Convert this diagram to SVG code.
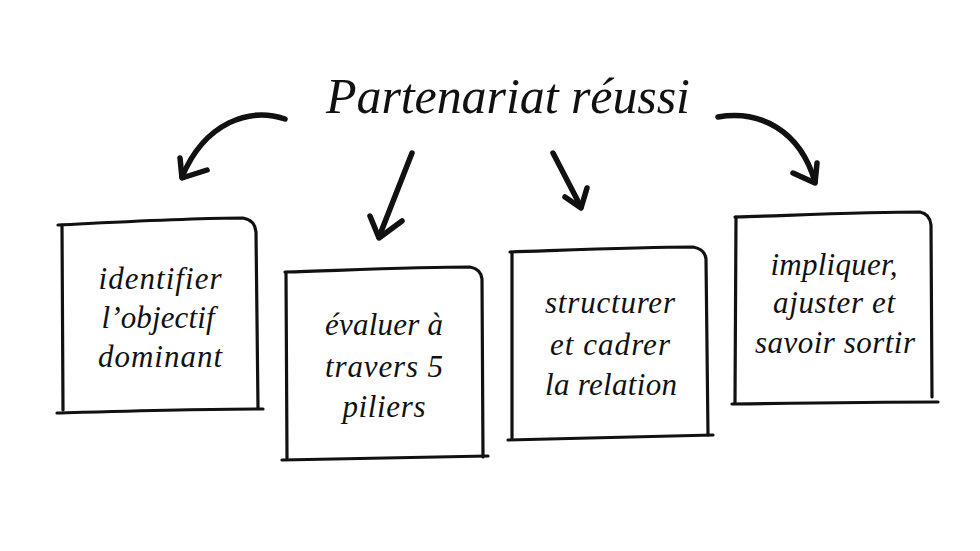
<svg xmlns="http://www.w3.org/2000/svg" width="980" height="551" viewBox="0 0 980 551">
<style>
.bg{fill:#ffffff}
.box{fill:none;stroke:#111;stroke-width:3.2;stroke-linecap:round;stroke-linejoin:round}
.arr{fill:none;stroke:#111;stroke-width:5.5;stroke-linecap:round;stroke-linejoin:round}
.title{font-family:"Liberation Serif","DejaVu Serif",serif;font-style:italic;font-size:50px;fill:#111}
.lbl{font-family:"Liberation Serif","DejaVu Serif",serif;font-style:italic;font-size:31px;fill:#111;text-anchor:middle}
</style>
<rect class="bg" x="0" y="0" width="980" height="551"/>
<g id="title">
<text class="title" x="326" y="113" textLength="364" lengthAdjust="spacing">Partenariat réussi</text>
</g>
<g id="connectors">
<path class="arr" d="M285,119 C250,107 205,122 182,177"/>
<path class="arr" d="M180,158 L182,178 L207,170"/>
<path class="arr" d="M412,153 L379,237"/>
<path class="arr" d="M370,216 L379,238 L402,221"/>
<path class="arr" d="M553,153 L581,207"/>
<path class="arr" d="M565,197 L581,208 L587,188"/>
<path class="arr" d="M718,117 C760,110 800,130 815,182"/>
<path class="arr" d="M793,173 L815,183 L817,163"/>
</g>
<g id="node1">
<path class="box" d="M58,225 C120,222 190,218 243,218 Q255,220 256,232 C257,300 257,360 258,408"/>
<path class="box" d="M62,225 C62,290 63,350 63,410"/>
<path class="box" d="M57,413 C130,411 200,409 263,409"/>
<text class="lbl" x="160" y="289" textLength="123" lengthAdjust="spacing">identifier</text>
<text class="lbl" x="158" y="328" textLength="113" lengthAdjust="spacing">l’objectif</text>
<text class="lbl" x="160" y="367" textLength="124" lengthAdjust="spacing">dominant</text>
</g>
<g id="node2">
<path class="box" d="M285,272 C350,270 420,267 470,267 Q481,269 482,279 C482,340 483,400 483,457"/>
<path class="box" d="M286,273 C286,340 287,400 287,458"/>
<path class="box" d="M282,460 C350,459 420,457 488,456"/>
<text class="lbl" x="384" y="335" textLength="118" lengthAdjust="spacing">évaluer à</text>
<text class="lbl" x="384" y="377" textLength="118" lengthAdjust="spacing">travers 5</text>
<text class="lbl" x="384" y="417" textLength="83" lengthAdjust="spacing">piliers</text>
</g>
<g id="node3">
<path class="box" d="M510,252 C570,250 640,247 693,247 Q705,249 706,259 C707,320 707,380 708,435"/>
<path class="box" d="M512,253 C512,320 512,380 512,438"/>
<path class="box" d="M508,440 C580,438 650,436 713,435"/>
<text class="lbl" x="610" y="313" textLength="130" lengthAdjust="spacing">structurer</text>
<text class="lbl" x="610" y="355" textLength="120" lengthAdjust="spacing">et cadrer</text>
<text class="lbl" x="611" y="395" textLength="132" lengthAdjust="spacing">la relation</text>
</g>
<g id="node4">
<path class="box" d="M735,217 C800,215 870,212 920,212 Q930,214 931,225 C931,290 932,350 932,397"/>
<path class="box" d="M736,217 C736,290 735,350 735,403"/>
<path class="box" d="M732,404 C800,403 870,402 938,402"/>
<text class="lbl" x="834" y="275" textLength="127" lengthAdjust="spacing">impliquer,</text>
<text class="lbl" x="834" y="313" textLength="122" lengthAdjust="spacing">ajuster et</text>
<text class="lbl" x="835" y="353" textLength="160" lengthAdjust="spacing">savoir sortir</text>
</g>
</svg>
